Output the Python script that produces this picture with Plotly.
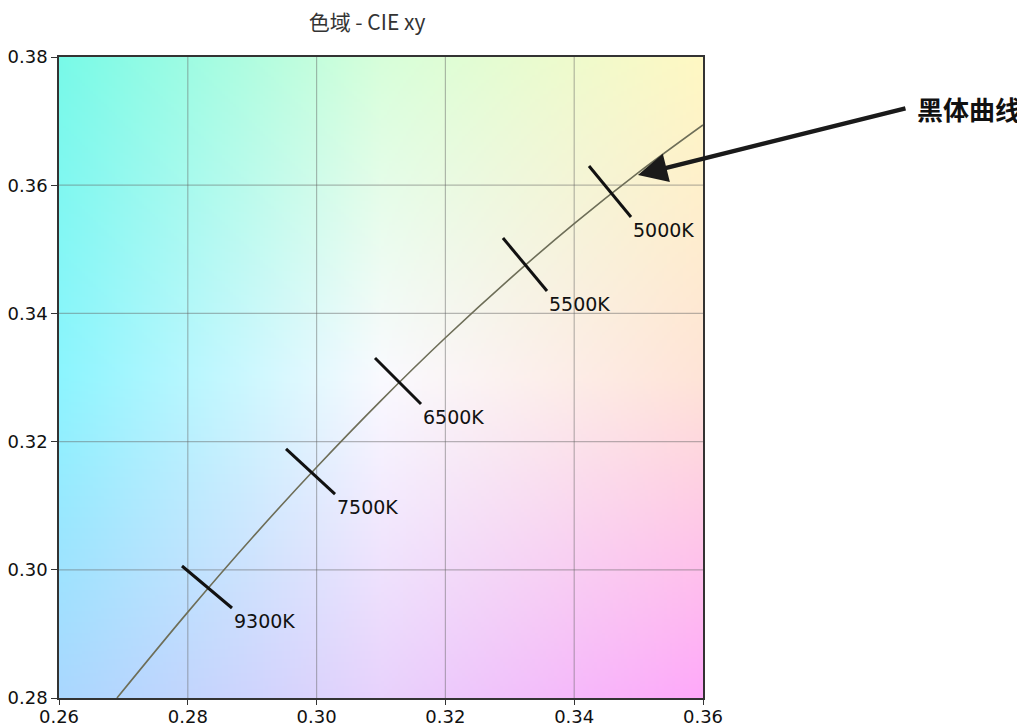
import numpy as np
import plotly.graph_objects as go

# ---------------- data ----------------
title_text = "色域 - CIE xy"
x_ticks = [0.26, 0.28, 0.30, 0.32, 0.34, 0.36]
y_ticks = [0.28, 0.30, 0.32, 0.34, 0.36, 0.38]
x_tick_labels = ["0.26", "0.28", "0.30", "0.32", "0.34", "0.36"]
y_tick_labels = ["0.28", "0.30", "0.32", "0.34", "0.36", "0.38"]
x_range = [0.26, 0.36]
y_range = [0.28, 0.38]

# white-point (daylight) curve
locus_x = [0.269, 0.280, 0.290, 0.300, 0.310, 0.320, 0.330, 0.340, 0.350, 0.360]
locus_y = [0.2800, 0.2934, 0.3050, 0.3160, 0.3264, 0.3362, 0.3454, 0.3540, 0.3620, 0.3694]

# colour-temperature marks (segment ends) and labels
cct_labels = ["5000K", "5500K", "6500K", "7500K", "9300K"]
cct_x0 = [0.34230, 0.32894, 0.30907, 0.29525, 0.27910]
cct_y0 = [0.36300, 0.35176, 0.33304, 0.31885, 0.30059]
cct_x1 = [0.34882, 0.33578, 0.31621, 0.30286, 0.28686]
cct_y1 = [0.35504, 0.34349, 0.32587, 0.31182, 0.29404]

callout_text = "黑体曲线"
callout_tip_x = 0.3499
callout_tip_y = 0.3616

# background colour samples (rows: y = 0.28, 0.33, 0.38 ; cols: x = 0.26, 0.31, 0.36)
bg_x = [0.26, 0.31, 0.36]
bg_y = [0.28, 0.33, 0.38]
bg_rgb = [
    [[170, 215, 255], [232, 210, 252], [255, 168, 250]],
    [[140, 245, 255], [250, 250, 255], [255, 228, 215]],
    [[120, 250, 232], [215, 255, 218], [255, 248, 195]],
]

# ---------------- background image ----------------
N = 240
xs = np.linspace(x_range[0], x_range[1], N)
ys = np.linspace(y_range[0], y_range[1], N)
grid = np.array(bg_rgb, dtype=float)
rows = np.zeros((len(bg_y), N, 3))
for r in range(len(bg_y)):
    for c in range(3):
        rows[r, :, c] = np.interp(xs, bg_x, grid[r, :, c])
img = np.zeros((N, N, 3))
for j in range(N):
    for c in range(3):
        img[:, j, c] = np.interp(ys, bg_y, rows[:, j, c])
img = np.clip(img, 0, 255).astype(np.uint8)
dx = (x_range[1] - x_range[0]) / (N - 1)
dy = (y_range[1] - y_range[0]) / (N - 1)

fig = go.Figure()
fig.add_trace(go.Image(z=img, x0=x_range[0], dx=dx, y0=y_range[0], dy=dy,
                       colormodel="rgb", hoverinfo="skip"))

# grid lines
grid_color = "rgba(100,100,100,0.45)"
gx, gy = [], []
for v in x_ticks[1:-1]:
    gx += [v, v, None]
    gy += [y_range[0], y_range[1], None]
for v in y_ticks[1:-1]:
    gx += [x_range[0], x_range[1], None]
    gy += [v, v, None]
fig.add_trace(go.Scatter(x=gx, y=gy, mode="lines",
                         line=dict(color=grid_color, width=1.2),
                         hoverinfo="skip"))

# curve
fig.add_trace(go.Scatter(x=locus_x, y=locus_y, mode="lines",
                         line=dict(color="#6e6e58", width=1.6, shape="spline"),
                         hoverinfo="skip"))

# tick segments
sx, sy = [], []
for a, b, c, d in zip(cct_x0, cct_y0, cct_x1, cct_y1):
    sx += [a, c, None]
    sy += [b, d, None]
fig.add_trace(go.Scatter(x=sx, y=sy, mode="lines",
                         line=dict(color="#111111", width=3),
                         hoverinfo="skip"))

annotations = []
for lab, x1, y1 in zip(cct_labels, cct_x1, cct_y1):
    annotations.append(dict(x=x1, y=y1, xref="x", yref="y", text=lab,
                            showarrow=False, xanchor="left", yanchor="top",
                            font=dict(family="DejaVu Sans", size=19, color="#111111")))

# callout arrow and text
annotations.append(dict(x=callout_tip_x, y=callout_tip_y, xref="x", yref="y",
                        text="", showarrow=True, ax=269, ay=-67,
                        arrowhead=2, arrowsize=1.3, arrowwidth=4.5,
                        arrowcolor="#1a1a1a"))
annotations.append(dict(x=(915 - 59) / 644, y=(698 - 108.5) / 641,
                        xref="paper", yref="paper", text="<b>" + callout_text + "</b>",
                        showarrow=False, xanchor="left", yanchor="middle",
                        font=dict(family="Noto Sans CJK SC", size=26, color="#111111")))

axis_common = dict(showgrid=False, zeroline=False, showline=True, linecolor="#333333",
                   linewidth=1.5, mirror=True, ticks="outside",
                   tickcolor="#333333", tickwidth=1.2, automargin=False,
                   tickfont=dict(family="DejaVu Sans", size=18, color="#111111"))

# the page body adds an 8px offset, so margins are reduced by 8px to compensate
fig.update_layout(
    width=1025, height=726,
    margin=dict(l=51, r=330, t=49, b=36, autoexpand=False),
    paper_bgcolor="white", plot_bgcolor="white",
    showlegend=False,
    title=dict(text=title_text, x=(367 - 59) / 644, xref="paper", xanchor="center",
               y=1 - 15 / 726, yref="container", yanchor="middle", automargin=False,
               font=dict(family="Noto Sans CJK SC", size=21, color="#333333")),
    xaxis=dict(range=x_range, tickvals=x_ticks, ticktext=x_tick_labels,
               ticklen=5, ticklabelstandoff=-3, **axis_common),
    yaxis=dict(range=y_range, tickvals=y_ticks, ticktext=y_tick_labels,
               ticklen=6, autorange=False, scaleanchor=False, **axis_common),
    annotations=annotations,
)

fig.write_html("out.html")
